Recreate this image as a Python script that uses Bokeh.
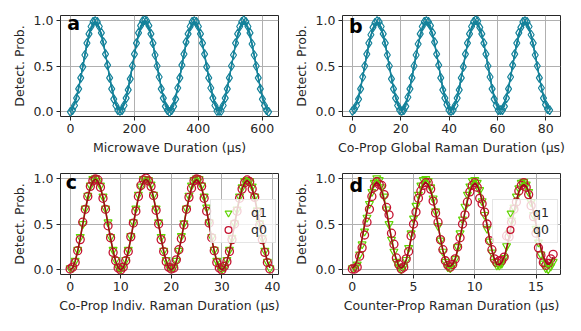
import numpy as np
from bokeh.plotting import figure
from bokeh.layouts import gridplot
from bokeh.models import FixedTicker, PrintfTickFormatter, Range1d, Label
from bokeh.embed import file_html
from bokeh.resources import INLINE

# ---------------- data ----------------
# Panel a: microwave Rabi, three interleaved scans (us)
a_step = 19.375
a_x0 = np.arange(33) * a_step
a_x1 = np.arange(32) * a_step + a_step / 3
a_x2 = np.arange(32) * a_step + 2 * a_step / 3
a_y0 = [0.00, 0.15, 0.49, 0.85, 0.99, 0.86, 0.51, 0.14, 0.01, 0.15, 0.50, 0.86, 1.00, 0.85, 0.50, 0.15,
        0.00, 0.14, 0.51, 0.85, 0.99, 0.85, 0.49, 0.15, 0.01, 0.15, 0.50, 0.85, 1.00, 0.86, 0.50, 0.14, 0.00]
a_y1 = [0.02, 0.25, 0.62, 0.93, 0.98, 0.76, 0.37, 0.07, 0.02, 0.24, 0.63, 0.94, 0.99, 0.75, 0.38, 0.06,
        0.02, 0.26, 0.63, 0.93, 0.98, 0.75, 0.37, 0.07, 0.01, 0.25, 0.62, 0.93, 0.98, 0.74, 0.37, 0.07]
a_y2 = [0.07, 0.37, 0.75, 0.98, 0.93, 0.63, 0.25, 0.02, 0.07, 0.36, 0.75, 0.99, 0.94, 0.62, 0.25, 0.02,
        0.06, 0.37, 0.76, 0.98, 0.93, 0.63, 0.26, 0.01, 0.07, 0.37, 0.75, 0.98, 0.93, 0.62, 0.25, 0.02]

# Panel b: co-propagating global Raman (us)
b_step = 2.55
b_x0 = np.arange(33) * b_step
b_x1 = np.arange(32) * b_step + b_step / 3
b_x2 = np.arange(32) * b_step + 2 * b_step / 3
b_y0 = [0.01, 0.14, 0.50, 0.84, 0.99, 0.85, 0.50, 0.15, 0.01, 0.16, 0.50, 0.85, 0.99, 0.86, 0.51, 0.15,
        0.01, 0.15, 0.49, 0.85, 1.00, 0.85, 0.50, 0.14, 0.02, 0.15, 0.51, 0.86, 0.99, 0.84, 0.50, 0.15, 0.02]
b_y1 = [0.03, 0.25, 0.63, 0.92, 0.98, 0.75, 0.36, 0.07, 0.02, 0.25, 0.62, 0.93, 0.98, 0.76, 0.37, 0.08,
        0.02, 0.24, 0.63, 0.93, 0.99, 0.75, 0.38, 0.07, 0.02, 0.25, 0.63, 0.92, 0.98, 0.75, 0.37, 0.08]
b_y2 = [0.07, 0.38, 0.75, 0.97, 0.93, 0.62, 0.25, 0.02, 0.06, 0.37, 0.74, 0.98, 0.94, 0.63, 0.24, 0.02,
        0.07, 0.37, 0.75, 0.98, 0.92, 0.63, 0.25, 0.02, 0.06, 0.38, 0.75, 0.98, 0.93, 0.62, 0.26, 0.03]

# Panel c: co-propagating individual Raman (us)
c_x = np.arange(80) * 0.5
c_q0 = [0.01, 0.03, 0.08, 0.21, 0.33, 0.52, 0.66, 0.80, 0.91, 0.97, 0.99, 0.98, 0.90, 0.78, 0.66, 0.48, 0.35, 0.19, 0.10, 0.02,
        0.00, 0.03, 0.10, 0.20, 0.36, 0.51, 0.64, 0.80, 0.92, 0.98, 1.00, 0.97, 0.91, 0.81, 0.65, 0.50, 0.33, 0.20, 0.09, 0.03,
        0.01, 0.02, 0.11, 0.22, 0.34, 0.49, 0.66, 0.79, 0.89, 0.97, 0.99, 0.98, 0.91, 0.78, 0.64, 0.51, 0.35, 0.21, 0.08, 0.02,
        0.00, 0.04, 0.09, 0.20, 0.33, 0.50, 0.64, 0.78, 0.88, 0.95, 0.98, 0.96, 0.88, 0.79, 0.63, 0.49, 0.33, 0.19, 0.08, 0.01]
c_q1 = [0.02, 0.02, 0.10, 0.22, 0.36, 0.50, 0.67, 0.81, 0.92, 0.99, 1.00, 0.97, 0.92, 0.80, 0.67, 0.52, 0.36, 0.22, 0.11, 0.03,
        0.01, 0.04, 0.11, 0.22, 0.37, 0.52, 0.67, 0.82, 0.91, 0.99, 0.99, 0.98, 0.93, 0.82, 0.67, 0.52, 0.36, 0.21, 0.11, 0.04,
        0.02, 0.03, 0.10, 0.21, 0.37, 0.51, 0.67, 0.81, 0.92, 0.98, 1.00, 0.99, 0.92, 0.80, 0.68, 0.52, 0.36, 0.22, 0.10, 0.04,
        0.01, 0.03, 0.11, 0.22, 0.35, 0.51, 0.66, 0.80, 0.90, 0.97, 0.98, 0.97, 0.91, 0.80, 0.65, 0.51, 0.35, 0.21, 0.09, 0.02]
c_fit_q1 = [0.00, 0.024, 0.095, 0.206, 0.345, 0.50, 0.655, 0.794, 0.905, 0.976, 1.00, 0.976, 0.905, 0.794, 0.655, 0.50, 0.345, 0.206, 0.095, 0.024,
            0.00, 0.024, 0.095, 0.206, 0.345, 0.50, 0.655, 0.794, 0.905, 0.976, 1.00, 0.976, 0.905, 0.794, 0.655, 0.50, 0.345, 0.206, 0.095, 0.024,
            0.00, 0.024, 0.095, 0.206, 0.345, 0.50, 0.655, 0.794, 0.905, 0.976, 1.00, 0.976, 0.905, 0.794, 0.655, 0.50, 0.345, 0.206, 0.095, 0.024,
            0.00, 0.024, 0.095, 0.206, 0.345, 0.50, 0.655, 0.794, 0.905, 0.976, 1.00, 0.976, 0.905, 0.794, 0.655, 0.50, 0.345, 0.206, 0.095, 0.024]
c_fit_q0 = [0.00, 0.024, 0.094, 0.204, 0.342, 0.495, 0.648, 0.786, 0.896, 0.966, 0.990, 0.966, 0.896, 0.786, 0.648, 0.495, 0.342, 0.204, 0.094, 0.024,
            0.00, 0.024, 0.094, 0.203, 0.341, 0.494, 0.647, 0.784, 0.894, 0.964, 0.988, 0.964, 0.894, 0.784, 0.647, 0.494, 0.341, 0.203, 0.094, 0.024,
            0.00, 0.024, 0.093, 0.202, 0.339, 0.491, 0.643, 0.780, 0.889, 0.959, 0.983, 0.959, 0.889, 0.780, 0.643, 0.491, 0.339, 0.202, 0.093, 0.024,
            0.00, 0.023, 0.092, 0.200, 0.336, 0.487, 0.638, 0.773, 0.881, 0.950, 0.974, 0.950, 0.881, 0.773, 0.638, 0.487, 0.336, 0.200, 0.092, 0.023]

# Panel d: counter-propagating Raman (us)
d_x = np.arange(83) * 0.2
d_q0 = [0.01, 0.01, 0.03, 0.15, 0.24, 0.38, 0.52, 0.66, 0.80, 0.90, 0.96, 0.93, 0.92, 0.82, 0.68, 0.60, 0.40, 0.28, 0.13, 0.06,
        0.01, 0.03, 0.12, 0.20, 0.37, 0.50, 0.63, 0.78, 0.86, 0.92, 0.95, 0.95, 0.88, 0.75, 0.62, 0.52, 0.33, 0.22, 0.10, 0.05,
        0.03, 0.06, 0.12, 0.25, 0.35, 0.50, 0.60, 0.74, 0.85, 0.92, 0.95, 0.90, 0.78, 0.72, 0.63, 0.50, 0.32, 0.22, 0.12, 0.08,
        0.10, 0.10, 0.14, 0.37, 0.36, 0.52, 0.66, 0.74, 0.86, 0.92, 0.95, 0.90, 0.82, 0.70, 0.58, 0.40, 0.24, 0.16, 0.08, 0.05,
        0.07, 0.12, 0.17]
d_q1 = [0.02, 0.03, 0.06, 0.17, 0.28, 0.42, 0.57, 0.72, 0.85, 0.95, 1.00, 0.98, 0.90, 0.80, 0.66, 0.50, 0.33, 0.20, 0.09, 0.03,
        0.01, 0.04, 0.11, 0.24, 0.40, 0.56, 0.70, 0.82, 0.92, 0.98, 0.99, 0.97, 0.90, 0.78, 0.64, 0.48, 0.32, 0.20, 0.09, 0.03,
        0.02, 0.05, 0.12, 0.25, 0.40, 0.55, 0.69, 0.82, 0.91, 0.97, 0.98, 0.95, 0.87, 0.75, 0.60, 0.45, 0.31, 0.19, 0.09, 0.05,
        0.05, 0.07, 0.13, 0.26, 0.40, 0.54, 0.68, 0.80, 0.89, 0.95, 0.96, 0.93, 0.85, 0.74, 0.60, 0.45, 0.30, 0.17, 0.07, 0.02,
        0.01, 0.04, 0.09]
d_fit_q1 = [0.01, 0.03, 0.10, 0.21, 0.34, 0.495, 0.65, 0.78, 0.89, 0.96, 0.98, 0.96, 0.89, 0.78, 0.65, 0.495, 0.34, 0.21, 0.10, 0.03,
            0.01, 0.03, 0.10, 0.21, 0.34, 0.495, 0.65, 0.78, 0.89, 0.96, 0.98, 0.96, 0.89, 0.78, 0.65, 0.495, 0.34, 0.21, 0.10, 0.03,
            0.02, 0.04, 0.11, 0.21, 0.34, 0.49, 0.64, 0.77, 0.88, 0.95, 0.97, 0.95, 0.88, 0.77, 0.64, 0.49, 0.34, 0.21, 0.11, 0.04,
            0.03, 0.05, 0.11, 0.22, 0.35, 0.49, 0.63, 0.76, 0.86, 0.93, 0.95, 0.93, 0.86, 0.76, 0.63, 0.49, 0.35, 0.22, 0.11, 0.05,
            0.03, 0.05, 0.11]
d_fit_q0 = [0.02, 0.04, 0.11, 0.21, 0.34, 0.485, 0.63, 0.76, 0.86, 0.93, 0.95, 0.93, 0.86, 0.76, 0.63, 0.485, 0.34, 0.21, 0.11, 0.04,
            0.02, 0.04, 0.11, 0.21, 0.34, 0.485, 0.63, 0.76, 0.86, 0.93, 0.95, 0.93, 0.86, 0.76, 0.63, 0.485, 0.34, 0.21, 0.11, 0.04,
            0.04, 0.06, 0.12, 0.22, 0.35, 0.49, 0.63, 0.75, 0.85, 0.92, 0.94, 0.92, 0.85, 0.75, 0.63, 0.49, 0.35, 0.22, 0.12, 0.06,
            0.06, 0.08, 0.14, 0.24, 0.36, 0.50, 0.63, 0.75, 0.85, 0.91, 0.93, 0.91, 0.85, 0.75, 0.63, 0.50, 0.36, 0.24, 0.14, 0.08,
            0.06, 0.08, 0.14]

a_ticks = [0, 200, 400, 600]
b_ticks = [0, 20, 40, 60, 80]
c_ticks = [0, 10, 20, 30, 40]
d_ticks = [0, 5, 10, 15]
y_ticks = [0, 0.5, 1.0]

TEAL = "#15829a"
GREEN = "#5fd400"
RED = "#c41230"
DARKRED = "#a5001c"
INK = "#262626"
FONT = "DejaVu Sans"
FS = "12.5px"


def make_fig(w, h, left, top, bottom, right, xr):
    p = figure(width=w, height=h, output_backend="svg", toolbar_location=None,
               x_range=Range1d(*xr), y_range=Range1d(-0.05, 1.05),
               min_border_left=left, min_border_right=right,
               min_border_top=top, min_border_bottom=bottom)
    return p


def style(p, xticks, xlabel):
    p.xaxis.ticker = FixedTicker(ticks=xticks)
    p.yaxis.ticker = FixedTicker(ticks=y_ticks)
    p.yaxis.formatter = PrintfTickFormatter(format="%.1f")
    p.xaxis.axis_label = xlabel
    p.yaxis.axis_label = "Detect. Prob."
    for ax in p.axis:
        ax.axis_label_text_font = FONT
        ax.axis_label_text_font_size = FS
        ax.axis_label_text_font_style = "normal"
        ax.axis_label_text_color = INK
        ax.major_label_text_font = FONT
        ax.major_label_text_font_size = FS
        ax.major_label_text_color = INK
        ax.axis_line_color = None
        ax.major_tick_line_color = INK
        ax.major_tick_out = 4
        ax.major_tick_in = 0
        ax.minor_tick_line_color = None
        ax.major_label_standoff = 3
        ax.axis_label_standoff = 4
    p.grid.grid_line_color = "#b0b0b0"
    p.grid.grid_line_width = 1
    p.outline_line_color = INK
    p.outline_line_width = 1


def letter(p, t, x, y):
    p.add_layout(Label(x=x, y=y, text=t, text_font=FONT, text_font_style="bold",
                       text_font_size="19px", text_color="black"))


def teal_panel(p, xs, ys):
    for x, y in zip(xs, ys):
        p.line(x, y, line_color=TEAL, line_width=1.3)
    for x, y in zip(xs, ys):
        p.scatter(x, y, marker="diamond", size=9, line_color=TEAL, line_width=1.2,
                  fill_color=None)


def rabi_panel(p, x, q1, q0, f1, f0):
    p.scatter(x, q1, marker="inverted_triangle", size=8, line_color=GREEN, line_width=1.2,
              fill_color=None, legend_label="q1")
    p.scatter(x, q0, marker="circle", size=8, line_color=RED, line_width=1.3,
              fill_color=None, legend_label="q0")
    p.line(x, f1, line_color=GREEN, line_width=1.5)
    p.line(x, f0, line_color=DARKRED, line_width=1.5)
    lg = p.legend[0]
    lg.location = (150, 31)
    lg.border_line_color = "#cccccc"
    lg.background_fill_alpha = 0.8
    lg.label_text_font = FONT
    lg.label_text_font_size = FS
    lg.label_text_color = INK
    lg.padding = 4
    lg.spacing = 0
    lg.margin = 0
    lg.glyph_width = 26
    lg.glyph_height = 17
    lg.label_height = 17
    lg.label_standoff = 10


pa = make_fig(290, 165, 60, 15, 49, 12, (-31, 651))
teal_panel(pa, [a_x0, a_x1, a_x2], [a_y0, a_y1, a_y2])
style(pa, a_ticks, "Microwave Duration (μs)")
letter(pa, "a", -10, 0.85)

pb = make_fig(290, 165, 52, 15, 49, 20, (-4.1, 86.1))
teal_panel(pb, [b_x0, b_x1, b_x2], [b_y0, b_y1, b_y2])
style(pb, b_ticks, "Co-Prop Global Raman Duration (μs)")
letter(pb, "b", -1.4, 0.815)

pc = make_fig(290, 165, 60, 8, 56, 12, (-1.9, 41.2))
rabi_panel(pc, c_x, c_q1, c_q0, c_fit_q1, c_fit_q0)
style(pc, c_ticks, "Co-Prop Indiv. Raman Duration (μs)")
letter(pc, "c", -0.85, 0.843)

pd_ = make_fig(290, 165, 52, 8, 56, 20, (-0.8, 17.0))
rabi_panel(pd_, d_x, d_q1, d_q0, d_fit_q1, d_fit_q0)
style(pd_, d_ticks, "Counter-Prop Raman Duration (μs)")
letter(pd_, "d", -0.22, 0.808)

grid = gridplot([[pa, pb], [pc, pd_]], toolbar_location=None)

open("out.html", "w").write(file_html(grid, INLINE))
